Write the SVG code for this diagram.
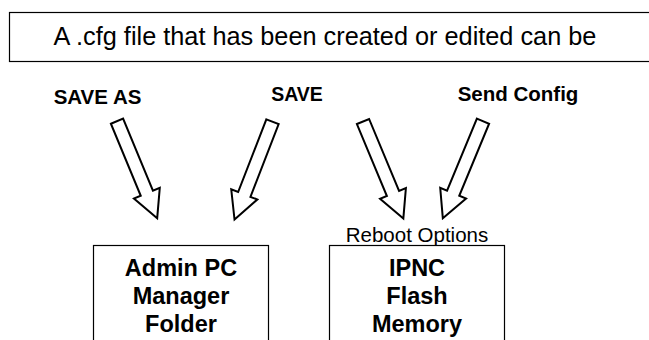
<svg xmlns="http://www.w3.org/2000/svg" width="649" height="340" viewBox="0 0 649 340">
<style>
.box{fill:#fff;stroke:#000;stroke-width:1.2}
.arr{fill:#fff;stroke:#000;stroke-width:2;stroke-linejoin:miter}
.t{font-family:"Liberation Sans",Arial,sans-serif;fill:#000;text-anchor:middle}
.b{font-weight:bold;font-size:20.5px}
.n{font-weight:bold;font-size:23.5px}
</style>
<defs>
<polygon id="blk" points="-6.6,0 6.6,0 6.6,78 14,78 0,105 -14,78 -6.6,78"/>
</defs>
<rect width="649" height="340" fill="#fff"/>
<g id="title">
<rect class="box" x="9.5" y="12.5" width="650" height="49"/>
<text class="t" x="325" y="45" font-size="25.3">A .cfg file that has been created or edited can be</text>
</g>
<g id="labels">
<text class="t b" x="97.5" y="104">SAVE AS</text>
<text class="t b" x="297" y="101" style="font-size:19.5px">SAVE</text>
<text class="t b" x="518" y="101">Send Config</text>
</g>
<g id="connectors">
<use href="#blk" class="arr" transform="translate(117,121.2) rotate(-22.5)"/>
<use href="#blk" class="arr" transform="translate(272.5,121.7) rotate(21.2)"/>
<use href="#blk" class="arr" transform="translate(363,121.5) rotate(-22.6)"/>
<use href="#blk" class="arr" transform="translate(483,121.2) rotate(22.5)"/>
</g>
<g id="admin">
<rect class="box" x="93.5" y="245.5" width="175" height="110"/>
<text class="t n" x="181" y="276">Admin PC</text>
<text class="t n" x="181" y="304">Manager</text>
<text class="t n" x="181" y="332">Folder</text>
</g>
<g id="ipnc">
<text class="t" x="417" y="242" font-size="20.5">Reboot Options</text>
<rect class="box" x="329.5" y="245.5" width="175" height="110"/>
<text class="t n" x="417" y="276">IPNC</text>
<text class="t n" x="417" y="304">Flash</text>
<text class="t n" x="417" y="332">Memory</text>
</g>
</svg>
